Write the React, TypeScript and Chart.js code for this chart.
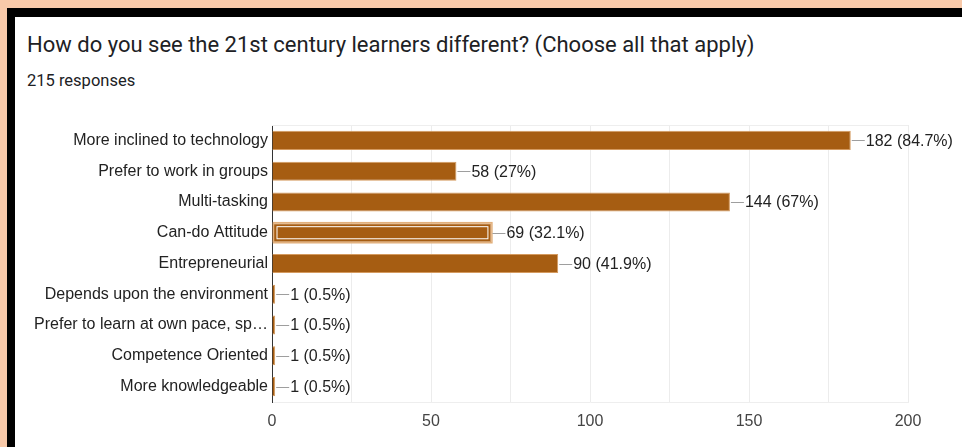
import React, { useEffect, useRef } from "react";
import { Chart, registerables } from "chart.js";

Chart.register(...registerables);

const TITLE = "How do you see the 21st century learners different? (Choose all that apply)";
const SUBTITLE = "215 responses";

const categories = [
  "More inclined to technology",
  "Prefer to work in groups",
  "Multi-tasking",
  "Can-do Attitude",
  "Entrepreneurial",
  "Depends upon the environment",
  "Prefer to learn at own pace, sp…",
  "Competence Oriented",
  "More knowledgeable",
];
const counts = [182, 58, 144, 69, 90, 1, 1, 1, 1];
const valueLabels = [
  "182 (84.7%)",
  "58 (27%)",
  "144 (67%)",
  "69 (32.1%)",
  "90 (41.9%)",
  "1 (0.5%)",
  "1 (0.5%)",
  "1 (0.5%)",
  "1 (0.5%)",
];
const xTicks = [0, 50, 100, 150, 200];
const highlightedIndex = 3;

const BAR = "#a65d12";
const FONT = "'Liberation Sans', Arial, sans-serif";

const valueLabelPlugin = {
  id: "valueLabels",
  afterDatasetsDraw(chart: any) {
    const ctx = chart.ctx;
    const meta = chart.getDatasetMeta(0);
    ctx.save();
    meta.data.forEach((bar: any, i: number) => {
      const x = bar.x;
      const y = bar.y;
      if (i === highlightedIndex) {
        const h = bar.height;
        const left = bar.base;
        ctx.strokeStyle = "#e2b07c";
        ctx.lineWidth = 1.5;
        ctx.strokeRect(left + 1, y - h / 2 - 0.5, x - left - 0.5, h + 1);
        ctx.strokeStyle = "#ffffff";
        ctx.lineWidth = 1;
        ctx.strokeRect(left + 4.5, y - h / 2 + 3.5, x - left - 8, h - 7);
      }
      ctx.strokeStyle = "#9e9e9e";
      ctx.lineWidth = 1;
      ctx.beginPath();
      ctx.moveTo(x + 1, Math.round(y) + 0.5);
      ctx.lineTo(x + 14, Math.round(y) + 0.5);
      ctx.stroke();
      ctx.fillStyle = "#222222";
      ctx.font = `16px ${FONT}`;
      ctx.textAlign = "left";
      ctx.textBaseline = "middle";
      ctx.fillText(valueLabels[i], x + 15, y + 1);
    });
    // top frame line
    const a = chart.chartArea;
    ctx.strokeStyle = "#eeeeee";
    ctx.beginPath();
    ctx.moveTo(a.left, a.top + 0.5);
    ctx.lineTo(a.right, a.top + 0.5);
    ctx.stroke();
    ctx.restore();
  },
};

export default function App() {
  const ref = useRef<HTMLCanvasElement | null>(null);

  useEffect(() => {
    if (!ref.current) return;
    const chart = new Chart(ref.current, {
      type: "bar",
      data: {
        labels: categories,
        datasets: [
          {
            data: counts,
            backgroundColor: BAR,
            borderColor: "#d49a5f",
            borderWidth: 1,
            barPercentage: 0.62,
            categoryPercentage: 1,
          },
        ],
      },
      options: {
        indexAxis: "y",
        animation: false,
        responsive: false,
        maintainAspectRatio: false,
        layout: { padding: { top: 15, right: 54, bottom: 0, left: 0 } },
        plugins: {
          legend: { display: false },
          tooltip: { enabled: false },
          title: { display: false },
        },
        scales: {
          x: {
            type: "linear",
            min: 0,
            max: 200,
            afterFit: (s: any) => {
              s.height = 45;
            },
            afterBuildTicks: (s: any) => {
              s.ticks = [0, 25, 50, 75, 100, 125, 150, 175, 200].map((v) => ({ value: v }));
            },
            grid: {
              color: (c: any) => (c.tick && c.tick.value === 0 ? "rgba(0,0,0,0)" : "#ececec"),
              lineWidth: 1,
              drawTicks: false,
            },
            border: { display: true, color: "#eeeeee" },
            ticks: {
              padding: 10,
              color: "#444444",
              font: { family: FONT, size: 16 },
              autoSkip: false,
              maxRotation: 0,
              callback: (v: any) => (xTicks.includes(Number(v)) ? String(v) : ""),
            },
          },
          y: {
            afterFit: (s: any) => {
              s.width = 257;
            },
            grid: { display: false, drawTicks: false },
            border: { display: true, color: "#333333", width: 1 },
            ticks: {
              padding: 4,
              color: "#222222",
              font: { family: FONT, size: 16 },
              autoSkip: false,
            },
          },
        },
      },
      plugins: [valueLabelPlugin],
    });
    return () => chart.destroy();
  }, []);

  return (
    <div
      style={{
        position: "fixed",
        left: 0,
        top: 0,
        width: 962,
        height: 447,
        background: "#f8c9a9",
        overflow: "hidden",
      }}
    >
      <div style={{ position: "absolute", left: 7, top: 8, right: 0, bottom: 0, background: "#000" }} />
      <div style={{ position: "absolute", left: 15, top: 17, right: 0, bottom: 0, background: "#fff" }} />
      <div
        style={{
          position: "absolute",
          left: 27,
          top: 31,
          fontFamily: "Roboto, sans-serif",
          fontSize: 22,
          color: "#202124",
          whiteSpace: "nowrap",
          lineHeight: "28px",
        }}
      >
        {TITLE}
      </div>
      <div
        style={{
          position: "absolute",
          left: 27,
          top: 70,
          fontFamily: "Roboto, sans-serif",
          fontSize: 16.5,
          color: "#202124",
          whiteSpace: "nowrap",
          lineHeight: "22px",
        }}
      >
        {SUBTITLE}
      </div>
      <canvas
        ref={ref}
        width={947}
        height={337}
        style={{ position: "absolute", left: 15, top: 110, width: 947, height: 337 }}
      />
    </div>
  );
}
